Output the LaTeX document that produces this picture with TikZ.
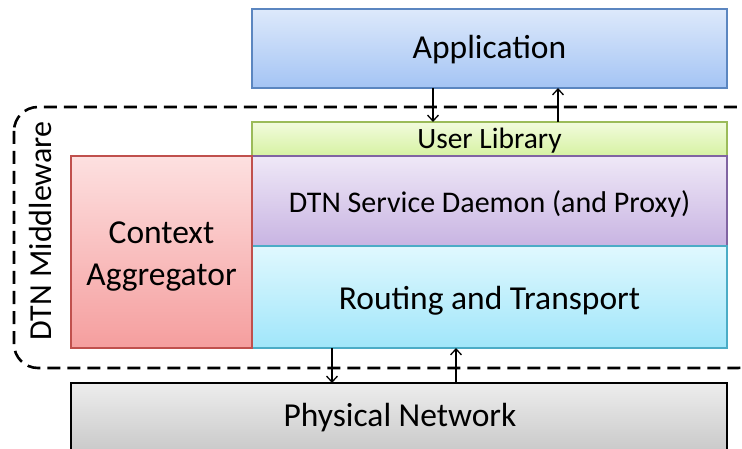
\documentclass[tikz,border=0pt]{standalone}
\usepackage{fontspec}
\setmainfont{Carlito}
\usetikzlibrary{arrows.meta}
\definecolor{appTop}{HTML}{DDE9FB}
\definecolor{appBot}{HTML}{A4C4F4}
\definecolor{appLine}{HTML}{5B86C0}
\definecolor{libTop}{HTML}{F2FBDD}
\definecolor{libBot}{HTML}{D6F2A2}
\definecolor{libLine}{HTML}{9BBB59}
\definecolor{svcTop}{HTML}{EFE8F7}
\definecolor{svcBot}{HTML}{C8B4E2}
\definecolor{svcLine}{HTML}{8064A2}
\definecolor{rtTop}{HTML}{E0F8FE}
\definecolor{rtBot}{HTML}{A0E6FA}
\definecolor{rtLine}{HTML}{4BACC6}
\definecolor{ctxTop}{HTML}{FDE0E0}
\definecolor{ctxBot}{HTML}{F59E9E}
\definecolor{ctxLine}{HTML}{C0504D}
\definecolor{phyTop}{HTML}{EDEDED}
\definecolor{phyBot}{HTML}{BDBDBD}
\tikzset{
  layer/.style={draw, line width=1.3pt},
  big/.style={font=\fontsize{33.5}{40}\selectfont},
  mid/.style={font=\fontsize{30}{36}\selectfont},
  flow/.style={-{Straight Barb[length=6pt,width=11pt]}, line width=1.3pt},
}
\begin{document}
\begin{tikzpicture}[x=1pt,y=-1pt]
\useasboundingbox (0,0) rectangle (742,449);
\clip (0,0) rectangle (742,449);
% middleware frame
\draw[line width=2.6pt, dash pattern=on 13pt off 7pt, rounded corners=24pt]
  (14,107) rectangle (762,368);
\node[rotate=90, font=\fontsize{32}{38}\selectfont] (mw) at (41,231) {DTN Middleware};
% layers
\draw[layer, draw=appLine, top color=appTop, bottom color=appBot] (252,9) rectangle (727,88);
\node[big] (app) at (489.5,50) {Application};
\draw[layer, draw=libLine, top color=libTop, bottom color=libBot] (252,122) rectangle (727,156);
\node[font=\fontsize{29.5}{34}\selectfont] (lib) at (489.5,141) {User Library};
\draw[layer, draw=svcLine, top color=svcTop, bottom color=svcBot] (252,156) rectangle (727,246);
\node[mid] (svc) at (489.5,204) {DTN Service Daemon (and Proxy)};
\draw[layer, draw=rtLine, top color=rtTop, bottom color=rtBot] (252,246) rectangle (727,348);
\node[big] (rt) at (489.5,301) {Routing and Transport};
\draw[layer, draw=ctxLine, top color=ctxTop, bottom color=ctxBot] (71,156) rectangle (252,348);
\node[big, align=center, font=\fontsize{33.5}{42}\selectfont] (ctx) at (161.5,257) {Context\\Aggregator};
\draw[layer, draw=black, top color=phyTop, bottom color=phyBot] (71,383) rectangle (727,475);
\node[big] (phy) at (400,418) {Physical Network};
% connector anchors on the box edges
\coordinate (a1) at (433,88);  \coordinate (l1) at (433,122);
\coordinate (a2) at (558,88);  \coordinate (l2) at (558,122);
\coordinate (r1) at (332,348); \coordinate (p1) at (332,383);
\coordinate (r2) at (456,348); \coordinate (p2) at (456,383);
\draw[flow] (a1) -- (l1);
\draw[flow] (l2) -- (a2);
\draw[flow] (r1) -- (p1);
\draw[flow] (p2) -- (r2);
\end{tikzpicture}
\end{document}
